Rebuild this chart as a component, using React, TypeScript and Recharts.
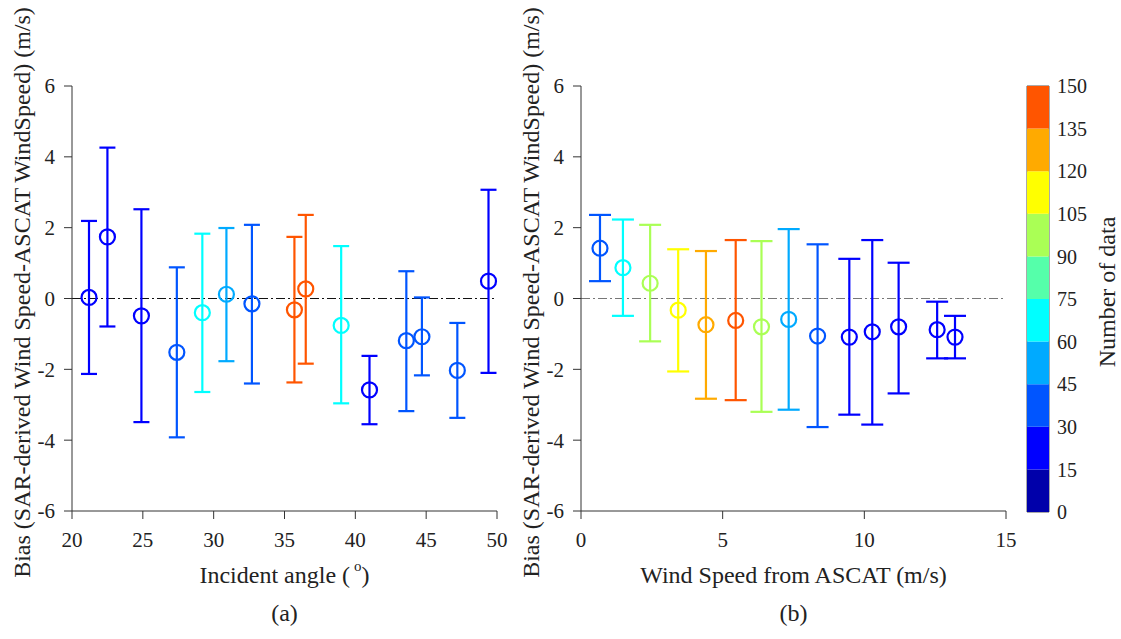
import React from 'react';
import {
  ScatterChart,
  Scatter,
  XAxis,
  YAxis,
  ErrorBar,
  ReferenceLine,
  ReferenceArea,
  Label,
  BarChart,
  Bar
} from 'recharts';

const FONT = 'Liberation Serif, Times New Roman, Times, DejaVu Serif, serif';
const INK = '#222';

// (a) bias against incident angle
const angleX = [21.2, 22.5, 24.9, 27.4, 29.2, 30.9, 32.7, 35.7, 36.5, 39.0, 41.0, 43.6, 44.7, 47.2, 49.4];
const angleBias = [0.03, 1.74, -0.49, -1.52, -0.4, 0.12, -0.15, -0.32, 0.27, -0.76, -2.58, -1.19, -1.08, -2.03, 0.49];
const angleLow = [-2.13, -0.79, -3.49, -3.92, -2.64, -1.77, -2.4, -2.37, -1.84, -2.96, -3.55, -3.18, -2.17, -3.37, -2.1];
const angleHigh = [2.19, 4.26, 2.52, 0.88, 1.83, 1.99, 2.08, 1.74, 2.36, 1.48, -1.62, 0.77, 0.03, -0.69, 3.07];
const angleCount = [25, 22, 27, 38, 68, 52, 40, 143, 141, 66, 20, 40, 42, 39, 24];
const angleTicks = [20, 25, 30, 35, 40, 45, 50];

// (b) bias against ASCAT wind speed
const windX = [0.67, 1.48, 2.44, 3.43, 4.41, 5.46, 6.37, 7.33, 8.35, 9.47, 10.28, 11.21, 12.57, 13.2];
const windBias = [1.42, 0.87, 0.43, -0.33, -0.74, -0.62, -0.8, -0.59, -1.06, -1.09, -0.94, -0.8, -0.88, -1.09];
const windLow = [0.49, -0.49, -1.21, -2.06, -2.83, -2.87, -3.2, -3.14, -3.63, -3.28, -3.56, -2.68, -1.69, -1.69];
const windHigh = [2.36, 2.23, 2.08, 1.39, 1.34, 1.65, 1.62, 1.96, 1.53, 1.12, 1.65, 1.01, -0.09, -0.49];
const windCount = [37, 70, 98, 112, 128, 140, 95, 55, 35, 25, 22, 20, 18, 16];
const windTicks = [0, 5, 10, 15];

const biasTicks = [-6, -4, -2, 0, 2, 4, 6];

// colour bar: number of data, jet(10)
const countLevels = [0, 15, 30, 45, 60, 75, 90, 105, 120, 135, 150];
const jet = ['#0000aa', '#0000ff', '#0055ff', '#00aaff', '#00ffff', '#55ffaa', '#aaff55', '#ffff00', '#ffaa00', '#ff5500'];

type Pt = { x: number; y: number; err: [number, number] };

function groupByColour(xs: number[], ys: number[], lo: number[], hi: number[], counts: number[]) {
  const bins: Pt[][] = jet.map(() => []);
  xs.forEach((x, i) => {
    let b = 0;
    while (b < jet.length - 1 && counts[i] >= countLevels[b + 1]) b++;
    bins[b].push({ x, y: ys[i], err: [ys[i] - lo[i], hi[i] - ys[i]] });
  });
  return bins.map((data, b) => ({ colour: jet[b], data })).filter((g) => g.data.length > 0);
}

const angleGroups = groupByColour(angleX, angleBias, angleLow, angleHigh, angleCount);
const windGroups = groupByColour(windX, windBias, windLow, windHigh, windCount);

const cbRow: Record<string, number | string> = { name: 'n' };
jet.forEach((_, i) => {
  cbRow['b' + i] = countLevels[i + 1] - countLevels[i];
});

const ring = (colour: string) => (p: any) => (
  <circle cx={p.cx} cy={p.cy} r={7.5} fill="none" stroke={colour} strokeWidth={2.2} />
);

const tickStyle = { fill: INK, fontSize: 21, fontFamily: FONT };
const titleStyle = { fill: INK, fontSize: 24, fontFamily: FONT };

interface PanelProps {
  groups: { colour: string; data: Pt[] }[];
  domain: [number, number];
  ticks: number[];
  title: React.ReactNode;
  caption: string;
  cap: number;
  zero: string;
}

function Panel({ groups, domain, ticks, title, caption, cap, zero }: PanelProps) {
  return (
    <ScatterChart width={530} height={639} margin={{ top: 86, right: 33, bottom: 88, left: 32 }}>
      <XAxis
        type="number"
        dataKey="x"
        domain={domain}
        ticks={ticks}
        interval={0}
        height={40}
        tickSize={8}
        tickMargin={13}
        stroke="#333"
        tick={tickStyle}
      >
        <Label
          content={({ viewBox }: any) => {
            const cx = viewBox.x + viewBox.width / 2;
            return (
              <g>
                <text x={cx} y={viewBox.y + 64} textAnchor="middle" dominantBaseline="central" style={titleStyle}>
                  {title}
                </text>
                <text x={cx} y={viewBox.y + 102} textAnchor="middle" dominantBaseline="central" style={titleStyle}>
                  {caption}
                </text>
              </g>
            );
          }}
        />
      </XAxis>
      <YAxis
        type="number"
        dataKey="y"
        domain={[-6, 6]}
        ticks={biasTicks}
        interval={0}
        width={40}
        tickSize={8}
        tickMargin={9}
        stroke="#333"
        tick={tickStyle}
      >
        <Label
          content={({ viewBox }: any) => {
            const cx = viewBox.x - 10;
            const cy = viewBox.y + viewBox.height / 2 - 6;
            return (
              <text
                x={cx}
                y={cy}
                transform={`rotate(-90 ${cx} ${cy})`}
                textAnchor="middle"
                dominantBaseline="central"
                style={titleStyle}
              >
                Bias (SAR-derived Wind Speed-ASCAT WindSpeed) (m/s)
              </text>
            );
          }}
        />
      </YAxis>
      <ReferenceLine y={0} stroke={zero} strokeWidth={1.1} strokeDasharray="9 3 2 3" />
      {groups.map((g) => (
        <Scatter key={g.colour} data={g.data} shape={ring(g.colour)} isAnimationActive={false}>
          <ErrorBar dataKey="err" direction="y" width={cap} stroke={g.colour} strokeWidth={2.2} isAnimationActive={false} />
        </Scatter>
      ))}
    </ScatterChart>
  );
}

function ColourBar() {
  return (
    <BarChart
      width={121}
      height={639}
      data={[cbRow]}
      margin={{ top: 86, right: 12, bottom: 127, left: 27 }}
      barCategoryGap={0}
    >
      <XAxis dataKey="name" hide />
      <YAxis
        orientation="right"
        domain={[0, 150]}
        ticks={countLevels}
        interval={0}
        width={60}
        tickSize={0}
        tickMargin={8}
        axisLine={false}
        tick={{ fill: INK, fontSize: 20, fontFamily: FONT }}
      >
        <Label
          content={({ viewBox }: any) => {
            const cx = viewBox.x + 58;
            const cy = 292;
            return (
              <text
                x={cx}
                y={cy}
                transform={`rotate(-90 ${cx} ${cy})`}
                textAnchor="middle"
                dominantBaseline="central"
                style={titleStyle}
              >
                Number of data
              </text>
            );
          }}
        />
      </YAxis>
      {jet.map((c, i) => (
        <Bar key={c} dataKey={'b' + i} stackId="cb" fill={c} isAnimationActive={false} />
      ))}
      <ReferenceArea y1={0} y2={150} fill="none" stroke="#555" strokeWidth={1} ifOverflow="visible" />
    </BarChart>
  );
}

export default function App() {
  return (
    <div
      style={{
        position: 'absolute',
        left: 0,
        top: 0,
        width: 1121,
        height: 639,
        background: '#fff',
        fontFamily: FONT,
        overflow: 'hidden'
      }}
    >
      <div style={{ position: 'absolute', left: 0, top: 0 }}>
        <Panel
          groups={angleGroups}
          domain={[20, 50]}
          ticks={angleTicks}
          title={
            <>
              Incident angle (
              <tspan dx={4} dy={-9} fontSize={15}>
                o
              </tspan>
              <tspan dy={9}>)</tspan>
            </>
          }
          caption="(a)"
          cap={8}
          zero="#111"
        />
      </div>
      <div style={{ position: 'absolute', left: 509, top: 0 }}>
        <Panel
          groups={windGroups}
          domain={[0, 15]}
          ticks={windTicks}
          title="Wind Speed from ASCAT (m/s)"
          caption="(b)"
          cap={11}
          zero="#777"
        />
      </div>
      <div style={{ position: 'absolute', left: 1000, top: 0 }}>
        <ColourBar />
      </div>
    </div>
  );
}
